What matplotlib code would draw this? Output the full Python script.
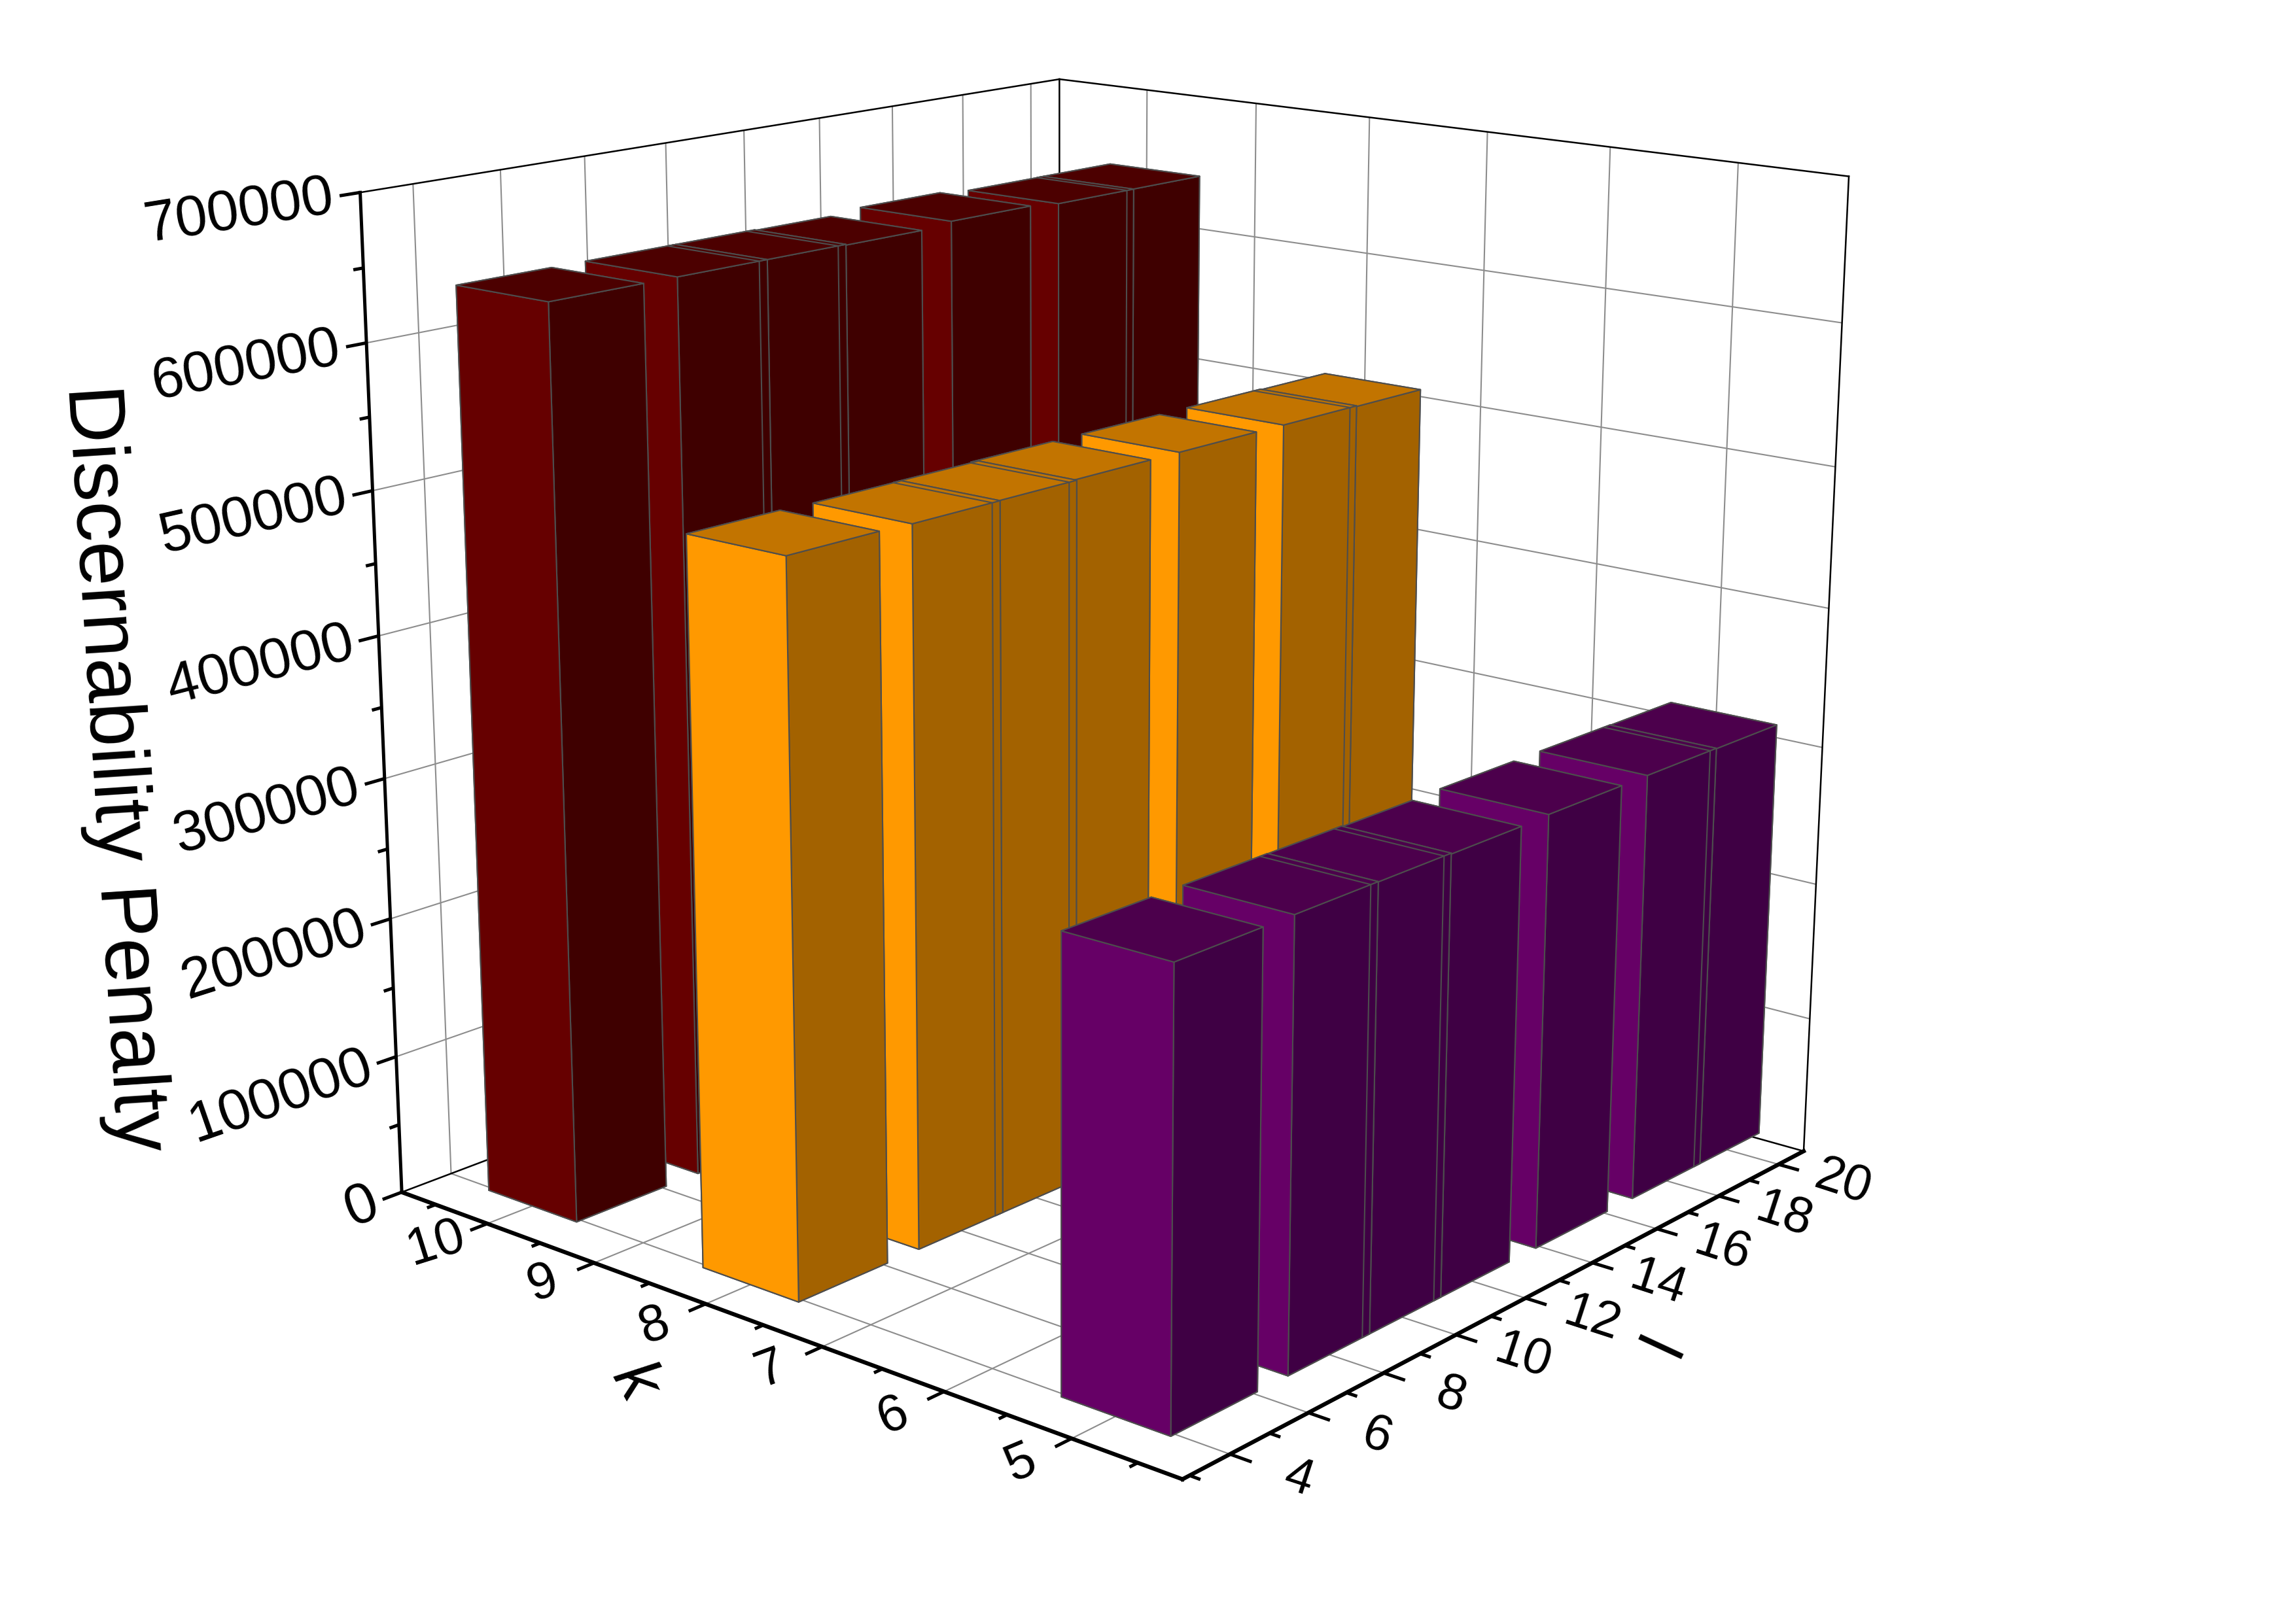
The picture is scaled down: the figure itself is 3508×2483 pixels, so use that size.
import numpy as np, matplotlib
matplotlib.use('Agg')
import matplotlib.pyplot as plt
from mpl_toolkits.mplot3d.art3d import Line3DCollection

plt.rcParams['font.family'] = ['Liberation Sans', 'DejaVu Sans']

# ---- data ----
l_values = [5, 8, 10, 12, 15, 18, 20]
k_values = [10, 8, 5]
penalty_k10 = [638000, 638000, 638000, 637500, 640000, 637800, 637900]
penalty_k8 = [503300, 502500, 502700, 503300, 503300, 503200, 502700]
penalty_k5 = [306300, 306300, 306100, 305500, 306300, 306400, 306100]
k_ticks = [10, 9, 8, 7, 6, 5]
l_ticks = [4, 6, 8, 10, 12, 14, 16, 18, 20]
z_ticks = [0, 100000, 200000, 300000, 400000, 500000, 600000, 700000]
x_label, y_label, z_label = 'l', 'k', 'Discernability Penalty'

# ---- view: 3x4 camera matrix fitted to the axes of the reference ----
LMIN, LMAX, KMIN, KMAX, ZMAX = 2.827, 20.859, 4.168, 10.832, 700000
CAM = np.array([0.4302991, -0.5259102, 0.007191178, -0.0419008,
                -0.1524093, -0.1328285, -1.450717, 0.53726,
                0.07189375, 0.06116961, -0.05824503, 1.0]).reshape(3, 4)
BAR_DL, BAR_DK = 2.2, 0.84
W, H = 3508, 2483

Tpx = np.array([[1000, 0, 1750.], [0, 1000, 1250.], [0, 0, 1]])
Td = np.array([[1/8., 0, 0, -1.5], [0, 1/3., 0, -2.5], [0, 0, 1/7e5, 0], [0, 0, 0, 1]])
P_raw = Tpx @ CAM @ Td

fig = plt.figure(figsize=(W/300, H/300), dpi=300, facecolor='white')
ax = fig.add_axes([0, 0, 1, 1], projection='3d', computed_zorder=False)
ax.set_axis_off()
ax.apply_aspect = lambda position=None: None


def get_proj():
    A = ax.transData.inverted().get_matrix()
    F = np.array([[1, 0, 0], [0, -1, H], [0, 0, 1.]])
    Q = A @ F @ P_raw
    depth = Q[2] - np.array([0, 0, 0, 1.])
    return np.vstack([Q[0], Q[1], depth, Q[2]])


ax.get_proj = get_proj


def to_px(l, k, z):
    h = P_raw @ np.array([l, k, z, 1.0])
    return h[0]/h[2], h[1]/h[2]


def label_at(l, k, z):
    x, y = to_px(l, k, z)
    return x/W, 1 - y/H


def angle_along(a, b):
    xa, ya = to_px(*a)
    xb, yb = to_px(*b)
    return np.degrees(np.arctan2(ya-yb, xb-xa))


def add_lines(segs, color, lw, zorder, cap='butt'):
    lc = Line3DCollection(segs, colors=color, linewidths=lw, zorder=zorder, capstyle=cap)
    ax.add_collection3d(lc, autolim=False)


grid = []
for l in l_ticks:
    grid += [[(l, KMAX, 0), (l, KMAX, ZMAX)], [(l, KMIN, 0), (l, KMAX, 0)]]
for k in k_ticks:
    grid += [[(LMAX, k, 0), (LMAX, k, ZMAX)], [(LMIN, k, 0), (LMAX, k, 0)]]
for z in z_ticks[1:-1]:
    grid += [[(LMIN, KMAX, z), (LMAX, KMAX, z)], [(LMAX, KMIN, z), (LMAX, KMAX, z)]]
add_lines(grid, '#8c8c8c', 0.5, 1)

frame = [[(LMIN, KMAX, ZMAX), (LMAX, KMAX, ZMAX)], [(LMAX, KMAX, ZMAX), (LMAX, KMIN, ZMAX)],
         [(LMAX, KMAX, 0), (LMAX, KMAX, ZMAX)], [(LMAX, KMIN, 0), (LMAX, KMIN, ZMAX)],
         [(LMIN, KMAX, 0), (LMAX, KMAX, 0)], [(LMAX, KMAX, 0), (LMAX, KMIN, 0)]]
add_lines(frame, 'black', 0.6, 2, 'projecting')

add_lines([[(LMIN, KMAX, 0), (LMIN, KMAX, ZMAX)]], 'black', 1.2, 3, 'projecting')
add_lines([[(LMIN, KMAX, 0), (LMIN, KMIN, 0)], [(LMIN, KMIN, 0), (LMAX, KMIN, 0)]], 'black', 1.5, 3, 'projecting')

ticks = []
for z in z_ticks:
    ticks.append([(LMIN, KMAX, z), (LMIN-0.45, KMAX, z)])
    x, y = label_at(LMIN-0.58, KMAX, z)
    fig.text(x, y, str(z), fontsize=21, ha='right', va='center', rotation_mode='anchor',
             rotation=angle_along((LMIN, KMAX, z), (LMAX, KMAX, z)))
for z in np.array(z_ticks[:-1]) + 50000:
    ticks.append([(LMIN, KMAX, z), (LMIN-0.22, KMAX, z)])
for k in k_ticks:
    ticks.append([(LMIN, k, 0), (LMIN-0.4, k, 0)])
    x, y = label_at(LMIN-1.2, k, 0)
    fig.text(x, y, str(k), fontsize=19, ha='center', va='center', rotation_mode='anchor',
             rotation=angle_along((LMIN, k, 0), (LMAX, k, 0)) - 4)
for k in [10.5, 9.5, 8.5, 7.5, 6.5, 5.5, 4.5]:
    ticks.append([(LMIN, k, 0), (LMIN-0.2, k, 0)])
for l in l_ticks:
    ticks.append([(l, KMIN, 0), (l, KMIN-0.16, 0)])
    x, y = label_at(l, KMIN-0.5, 0)
    fig.text(x, y, str(l), fontsize=18.5, rotation=-18, ha='center', va='center', rotation_mode='anchor')
for l in [3, 5, 7, 9, 11, 13, 15, 17, 19]:
    ticks.append([(l, KMIN, 0), (l, KMIN-0.08, 0)])
add_lines(ticks, 'black', 1.2, 3)

fig.text(174/W, 1-1175/H, z_label, fontsize=29.5, rotation=-86.3, ha='center', va='center')
fig.text(969/W, 1-2113/H, y_label, fontsize=24, rotation=-61, ha='center', va='center', style='italic')
fig.text(2545/W, 1-2057/H, x_label, fontsize=24, rotation=65, ha='center', va='center')

COLORS = {
    10: dict(front='#660000', side='#3f0000', top='#4c0000'),
    8: dict(front='#ff9900', side='#a36200', top='#c27400'),
    5: dict(front='#660066', side='#3f0044', top='#4c004c'),
}
SERIES = {10: penalty_k10, 8: penalty_k8, 5: penalty_k5}
EDGE = '#4d4d4d'
order = 10
for k in k_values:
    c = COLORS[k]
    faces = [c['side'], c['top'], c['side'], c['side'], c['front'], c['side']]
    vals = SERIES[k]
    k0, k1 = k-BAR_DK/2, k+BAR_DK/2
    for i in range(len(l_values)-1, -1, -1):
        l, h = l_values[i], vals[i]
        ax.bar3d(l-BAR_DL/2, k0, 0, BAR_DL, BAR_DK, h, color=faces, shade=False,
                 edgecolor=EDGE, linewidth=0.5, zorder=order)
        order += 1
        # edge of the next bar behind, which stays visible through the overlap
        if i < len(l_values)-1 and l + BAR_DL/2 > l_values[i+1] - BAR_DL/2:
            e = l_values[i+1] - BAR_DL/2
            add_lines([[(e, k0, 0), (e, k0, h)], [(e, k0, h), (e, k1, h)]], EDGE, 0.5, order)
            order += 1

ax.set_xlim(LMIN, LMAX)
ax.set_ylim(KMIN, KMAX)
ax.set_zlim(0, ZMAX)
fig.savefig('out.png', dpi=300)
